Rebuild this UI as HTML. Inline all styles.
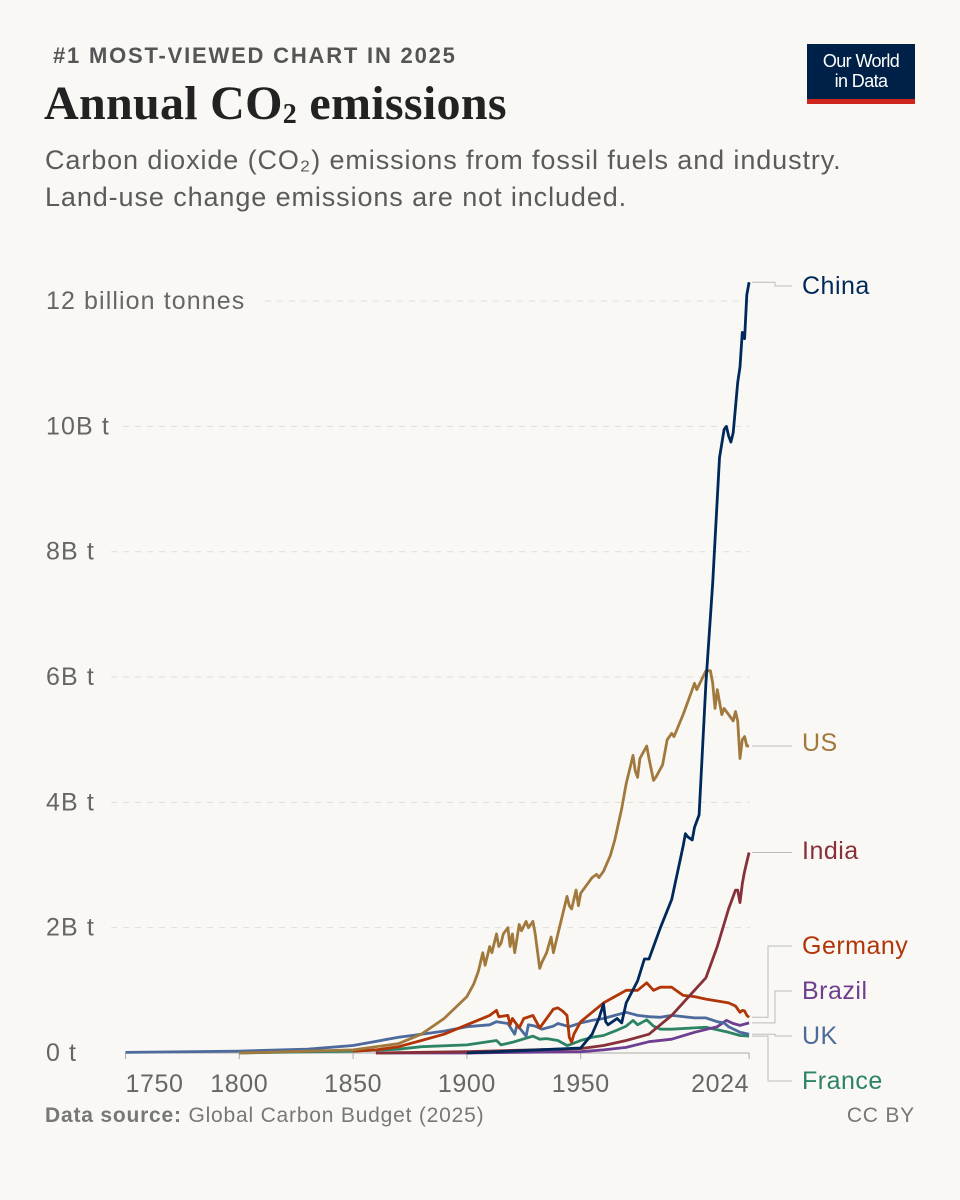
<!DOCTYPE html>
<html><head><meta charset="utf-8">
<style>
body{margin:0;background:#f9f8f4;}
#root{position:relative;width:960px;height:1200px;background:#f9f8f4;font-family:"Liberation Sans",sans-serif;overflow:hidden;}
.t{position:absolute;white-space:nowrap;}
</style></head>
<body>
<div id="root">
<div class="t" style="left:53px;top:43px;font-size:22px;font-weight:bold;color:#555;letter-spacing:1.8px;">#1 MOST-VIEWED CHART IN 2025</div>
<div class="t" style="left:44px;top:76px;font-family:'Liberation Serif',serif;font-weight:bold;font-size:48px;color:#222;letter-spacing:0.3px;">Annual CO<sub style="font-size:28px;vertical-align:-4px;">2</sub> emissions</div>
<div class="t" style="left:45px;top:142px;font-size:27px;line-height:37px;color:#5b5b5b;letter-spacing:0.9px;">Carbon dioxide (CO₂) emissions from fossil fuels and industry.<br>Land-use change emissions are not included.</div>
<div style="position:absolute;left:807px;top:44px;width:108px;height:60px;background:#002147;">
 <div style="position:absolute;left:0;right:0;bottom:0;height:5px;background:#ce261e;"></div>
 <div style="position:absolute;top:7px;width:100%;text-align:center;color:#fff;font-size:18px;line-height:20px;letter-spacing:-0.6px;">Our World<br>in Data</div>
</div>
<svg id="chart" width="960" height="1200" style="position:absolute;left:0;top:0;" xmlns="http://www.w3.org/2000/svg"></svg>
<div class="t" style="left:45px;top:1104px;font-size:21px;color:#777;letter-spacing:0.8px;"><b>Data source:</b> Global Carbon Budget (2025)</div>
<div class="t" style="right:45px;top:1104px;font-size:21px;color:#777;letter-spacing:0.8px;">CC BY</div>
</div>
<script>
const yTicks=[0,2,4,6,8,10,12];
const yTickLabels=["0 t","2B t","4B t","6B t","8B t","10B t","12 billion tonnes"];
const xTicks=[1750,1800,1850,1900,1950,2024];
const usYears=[1800,1850,1870,1880,1890,1900,1903,1905,1907,1908,1910,1911,1913,1914,1915,1916,1918,1919,1920,1921,1923,1924,1926,1927,1929,1930,1932,1933,1935,1937,1938,1940,1941,1944,1945,1946,1948,1949,1950,1955,1957,1958,1960,1963,1965,1968,1970,1972,1973,1974,1975,1976,1979,1980,1982,1983,1986,1988,1990,1991,1995,1997,2000,2001,2005,2007,2008,2009,2010,2012,2013,2015,2017,2018,2019,2020,2021,2022,2023,2024];
const usVals=[0,0.05,0.15,0.3,0.55,0.9,1.1,1.3,1.6,1.4,1.7,1.6,1.9,1.7,1.75,1.9,2.0,1.7,1.9,1.6,2.05,1.95,2.1,2.0,2.1,1.9,1.35,1.45,1.6,1.85,1.6,1.9,2.05,2.5,2.35,2.3,2.6,2.35,2.55,2.8,2.85,2.8,2.9,3.15,3.4,3.9,4.3,4.6,4.75,4.5,4.4,4.7,4.9,4.7,4.35,4.4,4.6,5.0,5.1,5.05,5.4,5.6,5.9,5.8,6.1,6.1,5.9,5.5,5.8,5.4,5.5,5.4,5.3,5.45,5.3,4.7,5.0,5.05,4.9,4.9];
const chinaYears=[1900,1950,1955,1958,1960,1961,1962,1966,1968,1970,1975,1978,1980,1985,1990,1995,1996,1997,1999,2000,2002,2005,2008,2011,2013,2014,2015,2016,2017,2019,2020,2021,2022,2023,2024];
const chinaVals=[0,0.08,0.3,0.55,0.78,0.5,0.45,0.55,0.48,0.8,1.15,1.5,1.5,2.0,2.45,3.3,3.5,3.45,3.4,3.6,3.8,5.9,7.5,9.5,9.95,10.0,9.85,9.75,9.9,10.7,10.95,11.5,11.4,12.1,12.3];
const indiaYears=[1860,1900,1950,1960,1970,1980,1990,2000,2005,2010,2015,2018,2019,2020,2021,2022,2023,2024];
const indiaVals=[0,0.02,0.07,0.12,0.2,0.3,0.6,1.0,1.2,1.7,2.3,2.6,2.6,2.4,2.7,2.9,3.05,3.2];
const germanyYears=[1850,1860,1870,1880,1890,1900,1910,1913,1914,1918,1919,1920,1923,1925,1929,1932,1935,1938,1940,1942,1944,1945,1946,1947,1950,1955,1960,1965,1970,1975,1979,1982,1985,1990,1995,2000,2005,2010,2015,2018,2020,2021,2022,2023,2024];
const germanyVals=[0.03,0.05,0.1,0.2,0.3,0.45,0.6,0.68,0.58,0.6,0.45,0.55,0.4,0.55,0.6,0.4,0.55,0.7,0.72,0.67,0.6,0.25,0.17,0.3,0.5,0.65,0.8,0.9,1.0,1.0,1.12,1.0,1.05,1.05,0.92,0.9,0.86,0.83,0.8,0.75,0.65,0.68,0.67,0.6,0.57];
const ukYears=[1750,1800,1830,1850,1870,1880,1890,1900,1910,1913,1918,1921,1922,1926,1927,1930,1933,1938,1940,1945,1950,1955,1960,1965,1970,1975,1980,1985,1990,2000,2005,2010,2013,2015,2020,2024];
const ukVals=[0.01,0.03,0.06,0.12,0.25,0.3,0.35,0.42,0.45,0.5,0.47,0.3,0.45,0.27,0.45,0.43,0.38,0.43,0.47,0.42,0.48,0.52,0.55,0.6,0.65,0.6,0.58,0.57,0.6,0.56,0.56,0.5,0.48,0.42,0.33,0.3];
const franceYears=[1800,1850,1870,1880,1900,1913,1915,1920,1929,1932,1935,1940,1944,1945,1950,1955,1960,1965,1970,1973,1975,1979,1982,1985,1990,2000,2005,2010,2015,2020,2024];
const franceVals=[0,0.03,0.06,0.1,0.13,0.2,0.13,0.17,0.27,0.22,0.23,0.2,0.12,0.13,0.2,0.25,0.28,0.35,0.43,0.52,0.45,0.53,0.43,0.38,0.38,0.4,0.41,0.37,0.33,0.28,0.27];
const brazilYears=[1860,1900,1950,1960,1970,1980,1990,2000,2010,2014,2017,2020,2024];
const brazilVals=[0,0,0.02,0.05,0.09,0.18,0.22,0.33,0.42,0.52,0.47,0.44,0.48];

const NS="http://www.w3.org/2000/svg";
const svg=document.getElementById('chart');
function x(yr){return 125.5+(yr-1750)*2.276;}
function y(v){return 1053-v*62.66;}
function mk(tag,attrs){const e=document.createElementNS(NS,tag);for(const k in attrs)e.setAttribute(k,attrs[k]);svg.appendChild(e);return e;}

yTicks.forEach((v,i)=>{
  const lab=mk('text',{x:46,y:y(v)+8,'font-size':25,fill:'#666','letter-spacing':'1.1','font-family':'Liberation Sans, sans-serif'});
  lab.textContent=yTickLabels[i];
  
  
  if(v>0){
    const w=yTickLabels[i].length*11.8+46+18;
    const g=mk('line',{x1:w,x2:750,y1:y(v),y2:y(v),stroke:'#ddd','stroke-dasharray':'6,6','stroke-width':1});
    
    
  }
});
const ax=mk('line',{x1:x(1750),x2:x(2024),y1:y(0),y2:y(0),stroke:'#aaa','stroke-width':1});


xTicks.forEach((t,i)=>{
  const tk=mk('line',{x1:x(t),x2:x(t),y1:y(0),y2:y(0)+6,stroke:'#aaa'});
  
  
  const anchor=i===0?'start':(i===xTicks.length-1?'end':'middle');
  const l=mk('text',{x:x(t),y:1092,'font-size':25,fill:'#666','letter-spacing':'0.6','text-anchor':anchor,'font-family':'Liberation Sans, sans-serif'});
  l.textContent=t;
  
  
});

const series=[
 ['france',franceYears,franceVals,'#2c8465','France',1081,'M752,{e} H768 V1081 H792'],
 ['brazil',brazilYears,brazilVals,'#6d3e91','Brazil',991,'M752,{e} H775 V991 H792'],
 ['uk',ukYears,ukVals,'#4c6a9c','UK',1036,'M752,{e} H775 V1036 H792'],
 ['germany',germanyYears,germanyVals,'#b13507','Germany',946,'M752,{e} H768 V946 H792'],
 ['india',indiaYears,indiaVals,'#883039','India',851,'M752,{e} H792'],
 ['us',usYears,usVals,'#a2793d','US',743,'M752,{e} H792'],
 ['china',chinaYears,chinaVals,'#00295b','China',286,'M752,{e} H775 V286 H792']
];
series.forEach(s=>{
  const [id,ys,vs,col,name,ly,conn]=s;
  let d='';
  ys.forEach((yr,i)=>{d+=(i?'L':'M')+x(yr).toFixed(1)+','+y(vs[i]).toFixed(1)+' ';});
  const p=mk('path',{d:d,fill:'none',stroke:col,'stroke-width':2.8,'stroke-linejoin':'round'});
  
  
  const e=y(vs[vs.length-1]).toFixed(1);
  const c=mk('path',{d:conn.replace('{e}',e),fill:'none',stroke:'#bbb','stroke-width':1});
  
  
  const t=mk('text',{x:802,y:ly+8,'font-size':25,fill:col,'letter-spacing':'0.5','font-family':'Liberation Sans, sans-serif'});
  t.textContent=name;
  
  
});
</script>
</body></html>
